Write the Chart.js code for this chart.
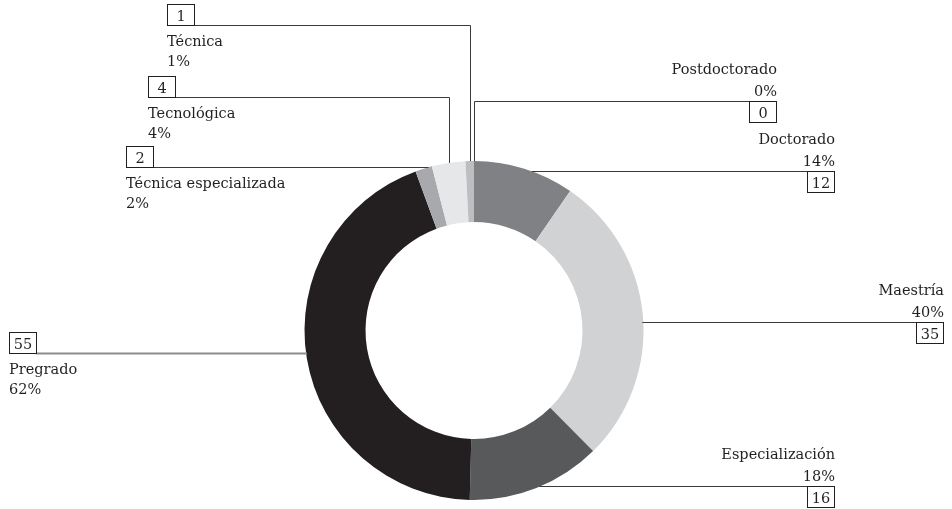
<!DOCTYPE html>
<html>
<head>
<meta charset="utf-8">
<script src="https://cdn.jsdelivr.net/npm/chart.js@4/dist/chart.umd.min.js"></script>
<style>
  html, body { margin: 0; padding: 0; background: #fff; }
  #wrap { width: 952px; height: 509px; }
</style>
</head>
<body>
<div id="wrap"><canvas id="niveles_chart"></canvas></div>
<script>
// categories clockwise from 12 o'clock
var categories = ['Doctorado', 'Maestría', 'Especialización', 'Pregrado',
                  'Técnica especializada', 'Tecnológica', 'Técnica', 'Postdoctorado'];
var counts = [12, 35, 16, 55, 2, 4, 1, 0];
var percent_labels = ['14%', '40%', '18%', '62%', '2%', '4%', '1%', '0%'];
var slice_colors = ['#808184', '#d1d2d4', '#58595b', '#231f20',
                    '#a7a9ac', '#e6e7e8', '#bcbec0', '#939598'];

// callout placement: side, outer x of the value box, y of the leader line,
// and whether the leader leaves the ring vertically ('v') or horizontally ('h')
var callouts = [
    { side: 'right', boxX: 835, lineY: 171, leave: 'h' },
    { side: 'right', boxX: 944, lineY: 322, leave: 'h' },
    { side: 'right', boxX: 835, lineY: 486, leave: 'h' },
    { side: 'left',  boxX: 9,   lineY: 353, leave: 'h', color: '#8c8c8c', width: 2 },
    { side: 'left',  boxX: 126, lineY: 167, leave: 'h' },
    { side: 'left',  boxX: 148, lineY: 97,  leave: 'v' },
    { side: 'left',  boxX: 167, lineY: 25,  leave: 'v' },
    { side: 'right', boxX: 777, lineY: 101, leave: 'v' }
];

const FONT = '14.5px "DejaVu Serif"';
const INK = '#231f20';

var callout_plugin = {
    id: 'callouts',
    afterDatasetsDraw: function(chart) {
        var ctx = chart.ctx;
        var arcs = chart.getDatasetMeta(0).data;
        ctx.save();
        ctx.font = FONT;
        ctx.fillStyle = INK;
        for (var i = 0; i < arcs.length; i++) {
            var a = arcs[i].getProps(['x', 'y', 'startAngle', 'endAngle', 'outerRadius'], true);
            var c = callouts[i];
            var ly = c.lineY + 0.5;
            var boxW = 27, boxH = 21;
            var numText = String(counts[i]);
            var startX;

            ctx.strokeStyle = c.color || '#3a3a3a';
            ctx.lineWidth = c.width || 1;
            ctx.beginPath();
            if (c.leave === 'v') {
                var mid = (a.startAngle + a.endAngle) / 2;
                var px = Math.round(a.x + Math.cos(mid) * a.outerRadius) + 0.5;
                var py = a.y + Math.sin(mid) * a.outerRadius;
                ctx.moveTo(px, py);
                ctx.lineTo(px, ly);
            } else {
                // start where the leader's row meets the ring's outer edge
                var dy = ly - a.y;
                var dx = Math.sqrt(Math.max(0, a.outerRadius * a.outerRadius - dy * dy));
                startX = c.side === 'left' ? a.x - dx + 1 : a.x + dx - 1;
                ctx.moveTo(startX, ly);
            }
            if (c.side === 'left') {
                ctx.lineTo(c.boxX + boxW, ly);
            } else {
                ctx.lineTo(c.boxX - boxW, ly);
            }
            ctx.stroke();

            ctx.strokeStyle = '#231f20';
            ctx.lineWidth = 1;
            ctx.textBaseline = 'alphabetic';
            if (c.side === 'left') {
                var bx = c.boxX + 0.5;
                ctx.strokeRect(bx, ly - boxH, boxW, boxH);
                ctx.textAlign = 'center';
                ctx.fillText(numText, bx + boxW / 2, ly - 5);
                ctx.textAlign = 'left';
                ctx.fillText(categories[i], c.boxX, ly + 20);
                ctx.fillText(percent_labels[i], c.boxX, ly + 40);
            } else {
                var rx = c.boxX - boxW - 0.5;
                ctx.strokeRect(rx, ly, boxW, boxH);
                ctx.textAlign = 'center';
                ctx.fillText(numText, rx + boxW / 2, ly + 16);
                ctx.textAlign = 'right';
                ctx.fillText(categories[i], c.boxX, ly - 28);
                ctx.fillText(percent_labels[i], c.boxX, ly - 6);
            }
        }
        ctx.restore();
    }
};

window.onload = function() {
    var context = document.getElementById('niveles_chart');
    new Chart(context, {
        type: 'doughnut',
        data: {
            labels: categories,
            datasets: [{
                data: counts,
                backgroundColor: slice_colors,
                borderWidth: 0
            }]
        },
        options: {
            responsive: true,
            maintainAspectRatio: false,
            animation: false,
            cutout: '64%',
            layout: { padding: { top: 161, bottom: 9, left: 0, right: 4 } },
            plugins: {
                legend: { display: false },
                tooltip: { enabled: false }
            }
        },
        plugins: [callout_plugin]
    });
};
</script>
</body>
</html>
